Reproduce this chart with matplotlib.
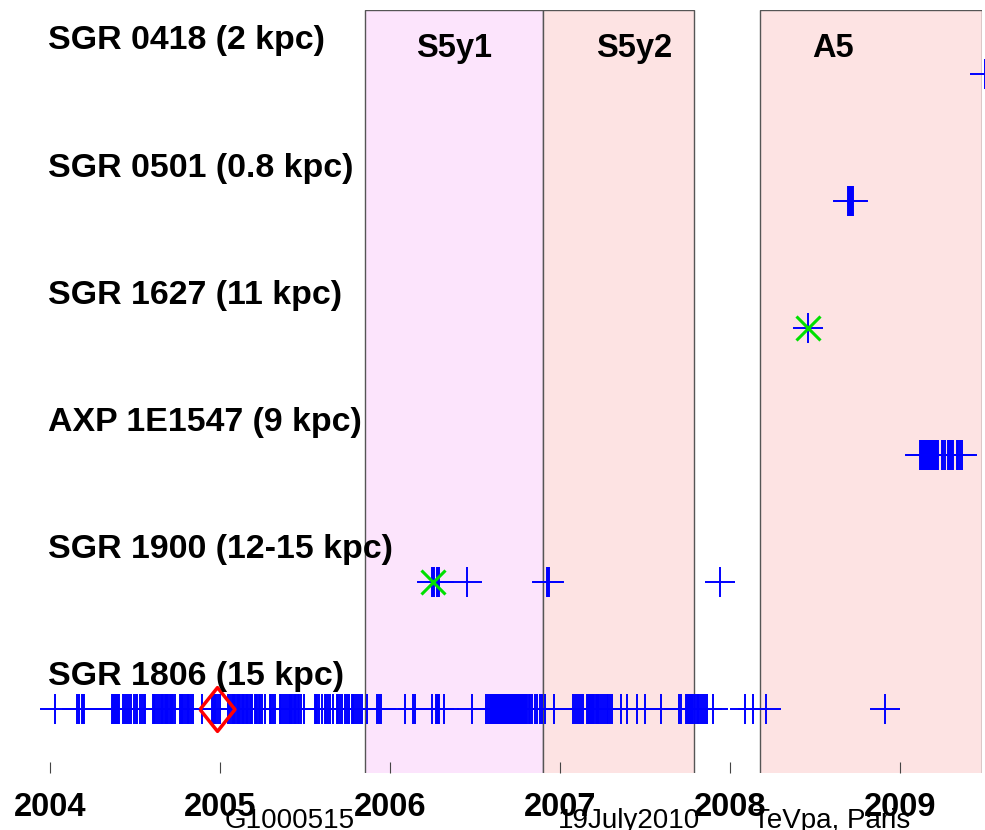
import numpy as np
import matplotlib
matplotlib.use('Agg')
import matplotlib.pyplot as plt
from matplotlib.patches import Rectangle

plt.rcParams['font.family'] = ['Liberation Sans', 'DejaVu Sans']

# source names (top to bottom) and their row index
sources = ['SGR 0418 (2 kpc)', 'SGR 0501 (0.8 kpc)', 'SGR 1627 (11 kpc)',
           'AXP 1E1547 (9 kpc)', 'SGR 1900 (12-15 kpc)', 'SGR 1806 (15 kpc)']
rows = [6, 5, 4, 3, 2, 1]

# burst times (decimal year)
t_0418 = [2009.50]
t_0501 = [2008.694, 2008.700, 2008.706, 2008.712, 2008.718, 2008.724]
t_1627 = [2008.459]
t_1547 = [2009.118, 2009.124, 2009.129, 2009.135, 2009.141, 2009.147, 2009.153,
          2009.159, 2009.165, 2009.171, 2009.176, 2009.182, 2009.188, 2009.194,
          2009.200, 2009.206, 2009.212, 2009.218, 2009.224, 2009.247, 2009.253,
          2009.265, 2009.282, 2009.288, 2009.294, 2009.300, 2009.306, 2009.312,
          2009.335, 2009.341, 2009.353, 2009.365]
t_1900 = [2006.247, 2006.253, 2006.259, 2006.276, 2006.282, 2006.288, 2006.453,
          2006.924, 2006.929, 2006.935, 2007.941]
t_1806 = [2004.028, 2004.161, 2004.169, 2004.188, 2004.194, 2004.200,
          2004.365, 2004.371, 2004.376, 2004.382, 2004.388, 2004.394, 2004.400, 2004.406,
          2004.429, 2004.441, 2004.453, 2004.465, 2004.476,
          2004.494, 2004.506, 2004.512, 2004.529, 2004.541, 2004.553, 2004.559,
          2004.606, 2004.612, 2004.618, 2004.629, 2004.641, 2004.653, 2004.659, 2004.665,
          2004.676, 2004.682, 2004.688, 2004.694, 2004.706, 2004.712, 2004.718, 2004.724,
          2004.735, 2004.765, 2004.771, 2004.776, 2004.782, 2004.794, 2004.806,
          2004.812, 2004.818, 2004.829, 2004.841, 2004.894,
          2004.953, 2004.959, 2004.965, 2004.971, 2004.976, 2004.988, 2005.000,
          2005.047, 2005.059, 2005.071, 2005.076, 2005.082, 2005.088, 2005.100,
          2005.106, 2005.112, 2005.118, 2005.129, 2005.135, 2005.141, 2005.153,
          2005.159, 2005.165, 2005.176, 2005.182, 2005.188,
          2005.206, 2005.212, 2005.218, 2005.229, 2005.235, 2005.247, 2005.265,
          2005.294, 2005.300, 2005.312, 2005.324, 2005.353, 2005.359, 2005.371,
          2005.382, 2005.394, 2005.406, 2005.412, 2005.418, 2005.424, 2005.435,
          2005.441, 2005.447, 2005.459, 2005.465, 2005.476, 2005.494,
          2005.559, 2005.565, 2005.571, 2005.582, 2005.600,
          2005.618, 2005.624, 2005.635, 2005.647, 2005.665,
          2005.688, 2005.694, 2005.706, 2005.718, 2005.735,
          2005.747, 2005.759, 2005.776, 2005.782, 2005.788, 2005.800, 2005.812,
          2005.824, 2005.835, 2005.865, 2005.924, 2005.935, 2005.947,
          2006.088, 2006.135, 2006.147, 2006.247, 2006.271, 2006.276, 2006.282,
          2006.288, 2006.318, 2006.482, 2006.565, 2006.576,
          2006.588, 2006.594, 2006.600, 2006.606, 2006.612, 2006.618, 2006.624,
          2006.629, 2006.635, 2006.641, 2006.647, 2006.653, 2006.659, 2006.665,
          2006.671, 2006.676, 2006.682, 2006.688, 2006.694, 2006.700, 2006.706,
          2006.712, 2006.718, 2006.724, 2006.729, 2006.735, 2006.741, 2006.747,
          2006.753, 2006.759, 2006.765, 2006.771, 2006.776, 2006.782, 2006.788,
          2006.794, 2006.800, 2006.806, 2006.818, 2006.824, 2006.835, 2006.853,
          2006.865, 2006.882, 2006.894, 2006.912, 2006.965,
          2007.076, 2007.088, 2007.100, 2007.112, 2007.124, 2007.135,
          2007.159, 2007.165, 2007.171, 2007.176, 2007.182, 2007.188, 2007.194,
          2007.200, 2007.212, 2007.218, 2007.224, 2007.229, 2007.241, 2007.253,
          2007.265, 2007.276, 2007.282, 2007.294, 2007.306, 2007.359, 2007.394,
          2007.453, 2007.500, 2007.594, 2007.700, 2007.712,
          2007.741, 2007.747, 2007.753, 2007.759, 2007.765, 2007.771, 2007.776,
          2007.782, 2007.794, 2007.806, 2007.812, 2007.818, 2007.829, 2007.841,
          2007.853, 2007.865, 2007.900, 2008.088, 2008.135, 2008.212, 2008.912]
bursts = [t_0418, t_0501, t_1627, t_1547, t_1900, t_1806]

# special events: green = peculiar bursts, red = giant flare
green_t = [2008.459, 2006.253]
green_row = [4, 2]
flare_t = [2004.98]
flare_row = [1]

# observation periods
periods = ['S5y1', 'S5y2', 'A5']
p_start = [2005.853, 2006.900, 2008.176]
p_end = [2006.900, 2007.788, 2009.48]
p_colors = ['#fce4fc', '#fde3e3', '#fde3e3']
p_label_x = [2006.376, 2007.435, 2008.606]

years = [2004, 2005, 2006, 2007, 2008, 2009]

fig = plt.figure(figsize=(9.85, 8.3), dpi=100)
ax = fig.add_axes([0.0249, 0.0687, 0.9717, 0.9193])
ax.set_xlim(2003.85, 2009.48)
ax.set_ylim(0.5, 6.5)

for s, e, c in zip(p_start, p_end, p_colors):
    ax.add_patch(Rectangle((s, 0.2), e - s, 6.3, facecolor=c,
                           edgecolor='#555555', lw=1, zorder=0))
for name, x in zip(periods, p_label_x):
    ax.text(x, 6.2, name, ha='center', va='center', fontsize=23.5,
            fontweight='bold')

for name, r, t in zip(sources, rows, bursts):
    ax.text(2003.99, r + 0.19, name, ha='left', va='baseline', fontsize=24.4,
            fontweight='bold')
    ax.plot(t, [r] * len(t), '+', color='#0000ff', ms=21.6, mew=1.4,
            clip_on=False)

ax.plot(green_t, green_row, 'x', color='#00e000', ms=17, mew=2.2,
        clip_on=False)
diamond = [(-0.8, 0), (0, 1), (0.8, 0), (0, -1), (-0.8, 0)]
ax.plot(flare_t, flare_row, marker=diamond, ls='none', mfc='none',
        mec='#ff0000', ms=31.5, mew=2.5, clip_on=False)

for sp in ax.spines.values():
    sp.set_visible(False)
ax.set_yticks([])
ax.set_xticks(years)
ax.set_xticklabels([str(y) for y in years], fontsize=23.5, fontweight='bold')
ax.tick_params(axis='x', direction='in', length=8, color='#444444', pad=14)

fig.text(290 / 985, 2 / 830, 'G1000515', ha='center', va='baseline', fontsize=20)
fig.text(629 / 985, 2 / 830, '19July2010', ha='center', va='baseline', fontsize=20)
fig.text(832 / 985, 2 / 830, 'TeVpa, Paris', ha='center', va='baseline', fontsize=20)

fig.savefig('out.png', dpi=100)
